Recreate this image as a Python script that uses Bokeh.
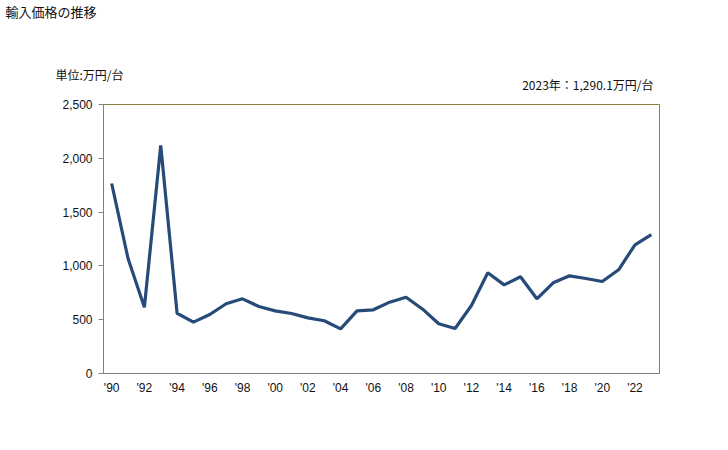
from bokeh.plotting import figure
from bokeh.layouts import column
from bokeh.models import Range1d, FixedTicker, Title
from bokeh.embed import file_html
from bokeh.resources import INLINE

years = list(range(1990, 2024))
values = [1766, 1069, 616, 2119, 560, 477, 548, 648, 694, 623, 582, 558, 517, 490,
          415, 582, 592, 663, 709, 600, 462, 418, 632, 936, 824, 899, 694, 843, 908,
          883, 855, 964, 1196, 1290.1]
x_ticks = list(range(1990, 2023, 2))
x_tick_labels = {t: "'" + str(t)[2:] for t in x_ticks}
y_ticks = [0, 500, 1000, 1500, 2000, 2500]
y_tick_labels = {t: f"{t:,}" for t in y_ticks}

title_text = "輸入価格の推移"
unit_text = "単位:万円/台"
note_text = "2023年：1,290.1万円/台"

W = 720
HDR_H = 24
jp = "Noto Sans CJK JP"
txt = dict(text_font=jp, text_font_style="normal", text_color="#111111", vertical_align="middle")

# header strip carrying the chart title
hdr = figure(width=W, height=HDR_H, output_backend="svg", toolbar_location=None, title=None,
             x_range=Range1d(0, 1), y_range=Range1d(0, 1), x_axis_type=None, y_axis_type=None,
             min_border_left=103, min_border_right=61, min_border_top=0, min_border_bottom=0)
hdr.outline_line_color = None
hdr.xgrid.visible = False
hdr.ygrid.visible = False
hdr.add_layout(Title(text=title_text, align="left", offset=-98, standoff=0,
                     text_font_size="13px", **txt), "above")

p = figure(width=W, height=440 - HDR_H, output_backend="svg", toolbar_location=None, title=None,
           x_range=Range1d(1989.5, 2023.5), y_range=Range1d(0, 2500),
           min_border_left=103, min_border_right=61, min_border_top=80, min_border_bottom=67)
p.background_fill_color = "white"
p.border_fill_color = "white"
p.outline_line_color = "#8B8040"
p.outline_line_width = 1
p.xgrid.visible = False
p.ygrid.visible = False

p.line(years, values, line_color="#264B78", line_width=3.2)

font = "Liberation Sans"
p.xaxis.ticker = FixedTicker(ticks=x_ticks)
p.xaxis.major_label_overrides = x_tick_labels
p.xaxis.major_tick_out = 0
p.xaxis.major_tick_in = 0
p.xaxis.minor_tick_out = 0
p.xaxis.minor_tick_in = 0
p.xaxis.major_label_standoff = 7

p.yaxis.ticker = FixedTicker(ticks=y_ticks)
p.yaxis.major_label_overrides = y_tick_labels
p.yaxis.major_tick_out = 5
p.yaxis.major_tick_in = 0
p.yaxis.minor_tick_out = 0
p.yaxis.minor_tick_in = 0
p.yaxis.major_label_standoff = 6

for ax in (p.xaxis, p.yaxis):
    ax.axis_line_color = "#808080"
    ax.major_tick_line_color = "#808080"
    ax.major_label_text_font = font
    ax.major_label_text_font_size = "12px"
    ax.major_label_text_color = "#111111"

# stacked above the frame: spacer, note, unit (nearest first)
p.add_layout(Title(text=" ", align="left", offset=0, standoff=-3.8,
                   text_font_size="12px", **txt), "above")
p.add_layout(Title(text=note_text, align="right", offset=6, standoff=-9.4,
                   text_font_size="12px", **txt), "above")
p.add_layout(Title(text=unit_text, align="left", offset=-48, standoff=-9.4,
                   text_font_size="12px", **txt), "above")

layout = column(hdr, p, spacing=0)
open("out.html", "w").write(file_html(layout, INLINE))
